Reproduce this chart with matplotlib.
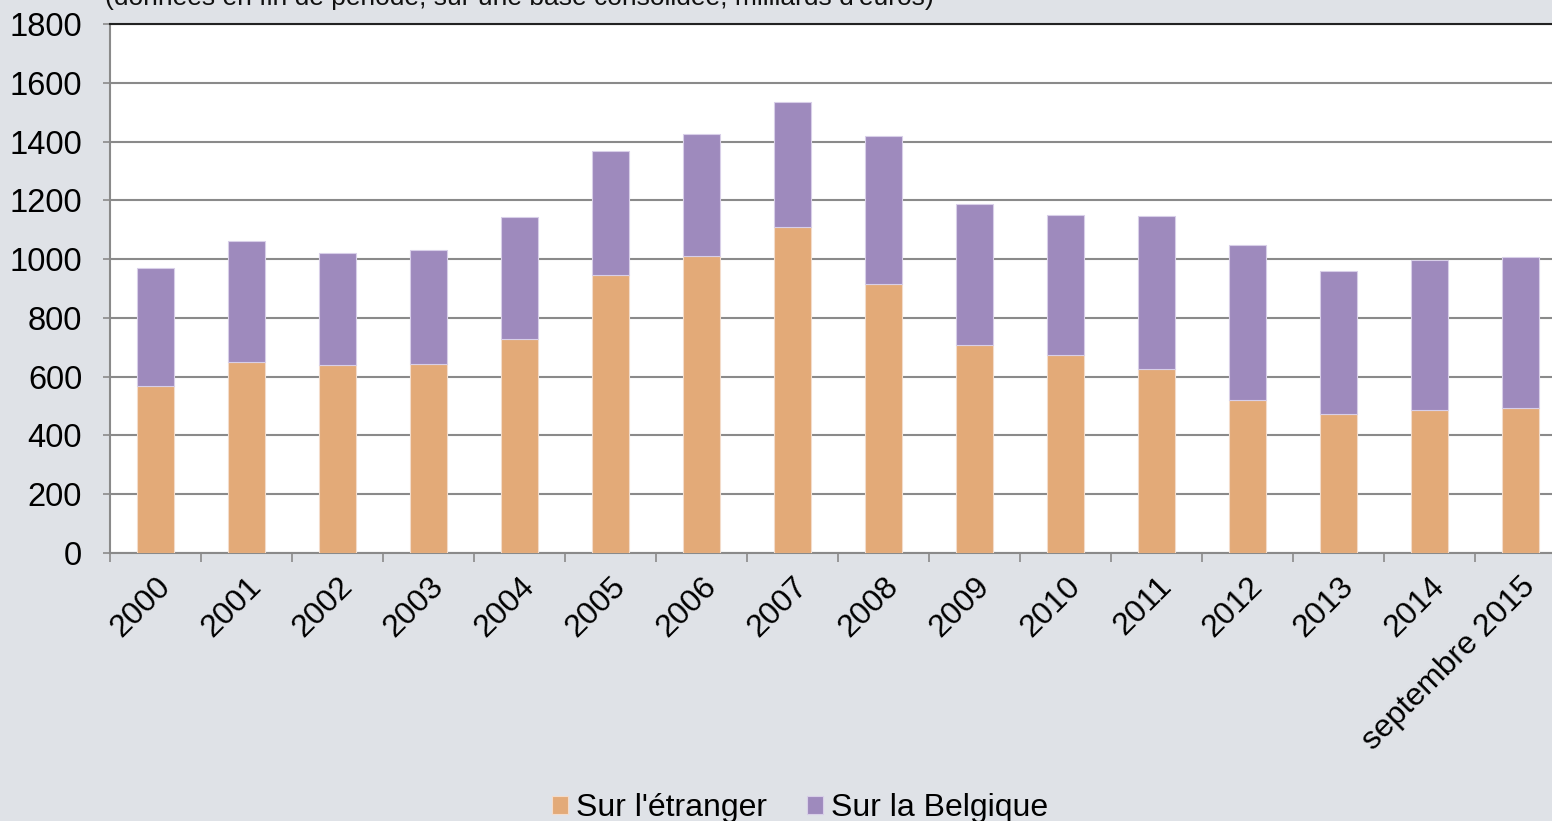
import matplotlib.pyplot as plt
import numpy as np

plt.rcParams['font.family'] = ['Liberation Sans', 'DejaVu Sans']

categories = ['2000', '2001', '2002', '2003', '2004', '2005', '2006', '2007',
              '2008', '2009', '2010', '2011', '2012', '2013', '2014', 'septembre 2015']
etranger = [568, 650, 640, 642, 728, 946, 1011, 1109, 915, 708, 674, 626, 521, 473, 487, 493]
total = [970, 1062, 1021, 1031, 1143, 1368, 1426, 1535, 1419, 1187, 1150, 1147, 1048, 960, 997, 1007]
belgique = [t - e for t, e in zip(total, etranger)]

bg = '#dfe2e7'
fig = plt.figure(figsize=(15.52, 8.21), dpi=100, facecolor=bg)
ax = fig.add_axes([110 / 1552, 1 - 553 / 821, 1456 / 1552, 529 / 821])
ax.set_facecolor('white')

x = np.arange(len(categories))
ax.bar(x, etranger, width=0.40, color='#e3aa78', edgecolor='#f3dccb', linewidth=0.8,
       label="Sur l'étranger", zorder=3)
ax.bar(x, belgique, bottom=etranger, width=0.40, color='#9e8abd', edgecolor='#d8cfe8',
       linewidth=0.8, label='Sur la Belgique', zorder=3)

ax.set_xlim(-0.5, len(categories) - 0.5)
ax.set_ylim(0, 1800)
ax.set_yticks(np.arange(0, 1801, 200))
ax.yaxis.grid(True, color='#8a8a8a', linewidth=1.5, zorder=1)
ax.set_axisbelow(True)

ax.set_xticks(x)
ax.set_xticklabels(categories, rotation=45, ha='right', rotation_mode='anchor', fontsize=23)
ax.set_xticks(np.arange(-0.5, len(categories), 1), minor=True)
ax.tick_params(axis='x', which='major', length=0, pad=13)
ax.tick_params(axis='x', which='minor', length=6.5, color='#8a8a8a', width=1.2)
ax.tick_params(axis='y', length=5, color='#8a8a8a', width=1.2, labelsize=23.5, pad=15)

ax.spines['top'].set_color('#222222')
ax.spines['top'].set_linewidth(1.5)
ax.spines['right'].set_visible(False)
ax.spines['left'].set_color('#8a8a8a')
ax.spines['left'].set_linewidth(1.5)
ax.spines['bottom'].set_color('#8a8a8a')
ax.spines['bottom'].set_linewidth(1.5)

fig.text(105 / 1552, 1 - 5 / 821, "(données en fin de période, sur une base consolidée, milliards d'euros)",
         fontsize=19, ha='left', va='baseline', color='#111111')

fig.legend(loc='center', bbox_to_anchor=(800 / 1552, 1 - 808 / 821), ncol=2, frameon=False,
           fontsize=23, handlelength=0.5, handleheight=0.5, handletextpad=0.25, columnspacing=1.25)

fig.savefig('out.png', dpi=100, facecolor=bg)
